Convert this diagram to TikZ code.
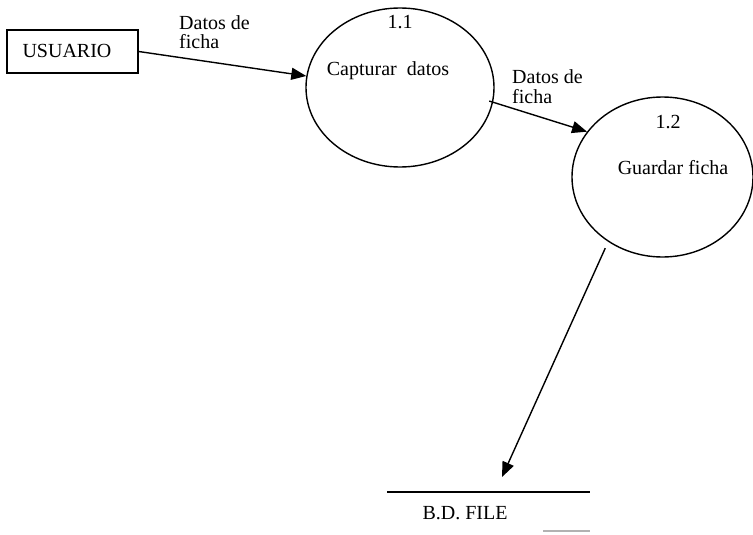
\documentclass[tikz,border=0pt]{standalone}
\usepackage{fontspec}
\setmainfont{Liberation Serif}
\usetikzlibrary{shapes.geometric,arrows.meta}
\begin{document}
\begin{tikzpicture}[x=1pt,y=-1pt,
  every node/.style={font=\fontsize{20}{20}\selectfont, inner sep=0pt},
  entity/.style={draw, line width=1.4pt, minimum width=131pt, minimum height=43pt},
  proc/.style={draw, ellipse, line width=1.4pt},
  flow/.style={line width=1.4pt, -{Triangle[length=15pt,width=12pt]}},
  lbl/.style={align=left, anchor=north west}]
\useasboundingbox (0,0) rectangle (753,535);
% entity
\node[entity] (u) at (72.5,51.5) {};
\node (ut) at (67,51) {USUARIO};
% processes
\node[proc, minimum width=188pt, minimum height=159pt] (p1) at (400,87.5) {};
\node (n1) at (400,22) {1.1};
\node (t1) at (388,71) {Capturar\ \ datos};
\node[proc, minimum width=181pt, minimum height=160pt] (p2) at (662.5,177) {};
\node (n2) at (668,122) {1.2};
\node (t2) at (673,168) {Guardar ficha};
% data store
\coordinate (sL) at (387,492);
\coordinate (sR) at (590,492);
\coordinate (bL) at (543,531);
\coordinate (bR) at (590,531);
\draw[line width=1.4pt] (sL) -- (sR);
\draw[gray!60, line width=1.5pt] (bL) -- (bR);
\node (bd) at (465,513) {B.D. FILE};
\coordinate (tip3) at (502,477);
% flows
\draw[flow] (u.east) -- (p1.173);
\node[lbl] (l1) at (179,15) {Datos de\\[-1pt]ficha};
\draw[flow, shorten <=-4pt] (p1.-9) -- (p2.149);
\node[lbl] (l2) at (512,69) {Datos de\\[0pt]ficha};
\draw[flow, shorten <=7pt] (p2.230) -- (tip3);
\end{tikzpicture}
\end{document}
